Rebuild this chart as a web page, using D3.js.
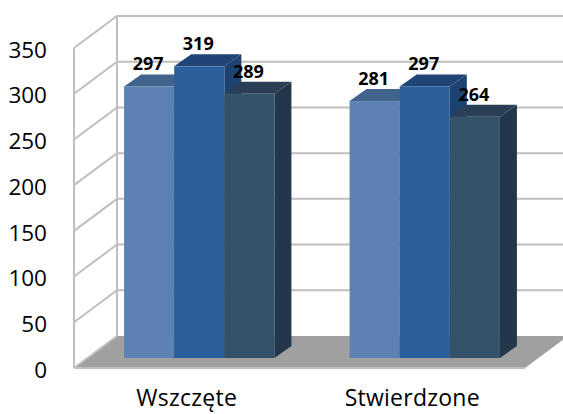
<!DOCTYPE html>
<html>
<head>
<meta charset="utf-8">
<script src="https://cdn.jsdelivr.net/npm/d3@7"></script>
<style>
  html, body { margin: 0; padding: 0; background: #fff; }
  svg { display: block; }
</style>
</head>
<body>
<svg width="563" height="414"></svg>
<script>
const categories = ['Wszczęte', 'Stwierdzone'];
const seriesKeys = ['a', 'b', 'c'];
const seriesA = [297, 281];
const seriesB = [319, 297];
const seriesC = [289, 264];
const yTicks = [0, 50, 100, 150, 200, 250, 300, 350];

const seriesValues = { a: seriesA, b: seriesB, c: seriesC };
const fronts = { a: '#5b82b3', b: '#2b5e9b', c: '#345369' };
const tops = { a: '#41648c', b: '#1e4576', c: '#2a3f56' };
const sides = { a: '#3d5f86', b: '#1c4270', c: '#24364a' };

const svg = d3.select('svg');
const font = '"Open Sans", sans-serif';

// caja 3D: pared frontal izquierda y desplazamiento de profundidad
const boxLeft = 74, boxRight = 525, boxBottom = 368, boxTop = 48;
const depthX = 43, depthY = -32;
// las barras van un poco dentro de la caja
const barDepthX = 17, barDepthY = -12;
const barShiftX = 12.5, barShiftY = -10;

const y = d3.scaleLinear().domain([0, 350]).range([boxBottom, boxTop]);
const x0 = d3.scaleBand().domain(categories).range([boxLeft, boxRight]).paddingInner(1 / 3).paddingOuter(1 / 6);
const x1 = d3.scaleBand().domain(seriesKeys).range([0, x0.bandwidth()]);
const xLabel = d3.scaleBand().domain(categories).range([boxLeft, boxRight]);

const poly = pts => pts.map(p => p.join(',')).join(' ');
const gridColor = '#bfbfbf';

// suelo
svg.append('polygon')
    .attr('points', poly([[boxLeft, boxBottom], [boxLeft + depthX, boxBottom + depthY], [boxRight + depthX, boxBottom + depthY], [boxRight, boxBottom]]))
    .attr('fill', '#a0a0a0');
svg.append('line')
    .attr('x1', boxLeft).attr('x2', boxRight)
    .attr('y1', boxBottom).attr('y2', boxBottom)
    .attr('stroke', gridColor).attr('stroke-width', 2);

// rejilla: pared lateral y pared de fondo
const grid = svg.append('g').attr('stroke', gridColor).attr('stroke-width', 2).attr('fill', 'none');
grid.selectAll('path.wall')
    .data(yTicks.slice(1))
    .join('path')
    .attr('class', 'wall')
    .attr('d', d => `M${boxLeft},${y(d)}L${boxLeft + depthX},${y(d) + depthY}H${boxRight + depthX}`);
grid.append('line')
    .attr('x1', boxLeft).attr('x2', boxLeft).attr('y1', boxTop).attr('y2', boxBottom);
grid.append('line')
    .attr('x1', boxLeft + depthX).attr('x2', boxLeft + depthX).attr('y1', boxTop + depthY).attr('y2', boxBottom + depthY);
grid.append('line')
    .attr('x1', boxLeft).attr('x2', boxLeft + depthX).attr('y1', boxBottom).attr('y2', boxBottom + depthY);

// barras
const bars = svg.append('g');
categories.forEach((cat, i) => {
    seriesKeys.forEach(key => {
        const v = seriesValues[key][i];
        const xa = x0(cat) + x1(key) + barShiftX;
        const xb = xa + x1.bandwidth();
        const yt = y(v) + barShiftY;
        const yb = y(0) + barShiftY;
        bars.append('polygon')
            .attr('points', poly([[xb, yt], [xb + barDepthX, yt + barDepthY], [xb + barDepthX, yb + barDepthY], [xb, yb]]))
            .attr('fill', sides[key]);
        bars.append('polygon')
            .attr('points', poly([[xa, yt], [xa + barDepthX, yt + barDepthY], [xb + barDepthX, yt + barDepthY], [xb, yt]]))
            .attr('fill', tops[key]);
        bars.append('rect')
            .attr('x', xa).attr('y', yt)
            .attr('width', x1.bandwidth()).attr('height', yb - yt)
            .attr('fill', fronts[key]);
    });
});

// etiquetas de valores
categories.forEach((cat, i) => {
    seriesKeys.forEach(key => {
        const v = seriesValues[key][i];
        svg.append('text')
            .attr('x', x0(cat) + x1(key) + x1.bandwidth() / 2 + barShiftX - 1)
            .attr('y', y(v) + barShiftY - 16)
            .attr('text-anchor', 'middle')
            .attr('font-family', font)
            .attr('font-weight', 700)
            .attr('font-size', 18)
            .attr('fill', '#000')
            .text(v);
    });
});

// eje Y
const axisY = svg.append('g')
    .attr('transform', 'translate(47,2)')
    .call(d3.axisLeft(y).tickValues(yTicks).tickSize(0).tickPadding(0));
axisY.select('.domain').remove();
axisY.selectAll('text')
    .attr('font-family', font)
    .attr('font-size', 22.5)
    .attr('fill', '#000');

// eje X
const axisX = svg.append('g')
    .attr('transform', 'translate(0,390)')
    .call(d3.axisBottom(xLabel).tickSize(0).tickPadding(0));
axisX.select('.domain').remove();
axisX.selectAll('text')
    .attr('font-family', font)
    .attr('font-size', 23)
    .attr('letter-spacing', 0.25)
    .attr('fill', '#000');
</script>
</body>
</html>
